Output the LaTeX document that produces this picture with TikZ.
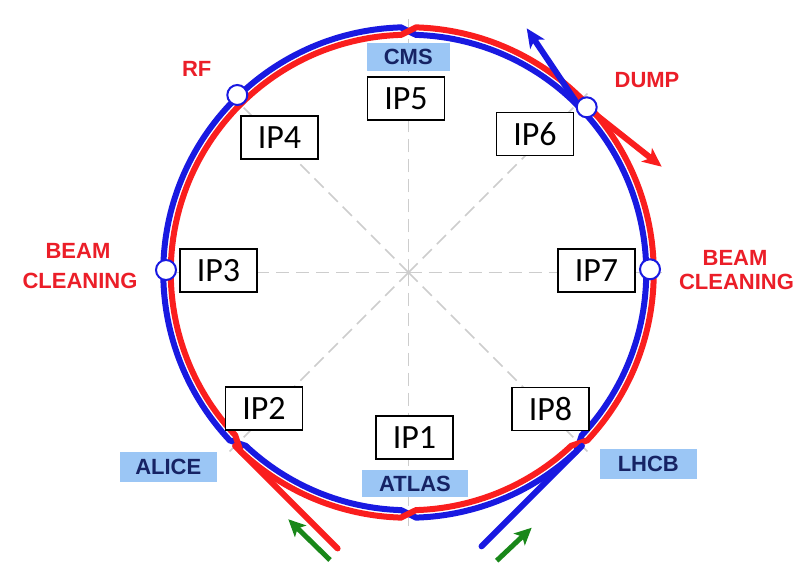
\documentclass[tikz,border=0pt]{standalone}
\usepackage{fontspec}
\setmainfont{Carlito}
\newfontfamily\labfont{Liberation Sans}
\usetikzlibrary{arrows.meta,calc}
\definecolor{beamblue}{RGB}{25,25,225}
\definecolor{beamred}{RGB}{250,30,30}
\definecolor{labfill}{RGB}{155,198,245}
\definecolor{navy}{RGB}{22,35,100}
\definecolor{textred}{RGB}{235,30,40}
\definecolor{injgreen}{RGB}{25,135,25}
\definecolor{gridgrey}{RGB}{205,205,205}
\begin{document}
\begin{tikzpicture}[x=1pt,y=1pt,
  ipbox/.style={draw=black, line width=1.6pt, fill=white, minimum width=77pt, minimum height=43pt, inner sep=0pt, font=\fontsize{34}{36}\selectfont},
  explab/.style={fill=labfill, text=navy, inner sep=0pt, font=\labfont\bfseries\fontsize{22}{24}\selectfont},
  redlab/.style={text=textred, inner sep=0pt, font=\labfont\bfseries\fontsize{22}{24}\selectfont},
  bluebeam/.style={draw=beamblue, line width=6pt},
  redbeam/.style={draw=beamred, line width=6pt},
  beamtip/.style={-{Stealth[length=19pt,width=17pt,inset=5pt]}},
  ringmark/.style={circle, draw=beamblue, line width=2pt, fill=white, minimum size=20pt, inner sep=0pt},
  griddash/.style={draw=gridgrey, line width=1.5pt, dash pattern=on 13pt off 7pt},
  greenarrow/.style={draw=injgreen, line width=5pt, -{Stealth[length=17pt,width=16pt,inset=4pt]}}
]
\useasboundingbox (0,0) rectangle (799,568);
\coordinate (C) at (408.5,295.5);
% dashed radial lines
\foreach \a/\n in {0/g0,45/g1,90/g2,135/g3,180/g4,225/g5,270/g6,315/g7}{
  \coordinate (\n) at ($(C)+(\a:258pt)$);
  \draw[griddash] (C) -- (\n);
}
% beam rings
\begin{scope}[shift={(C)}]
\draw[bluebeam] (91.8:245.25pt) arc[start angle=91.8,end angle=223.2,radius=245.25pt]
  -- (226.8:237.75pt) arc[start angle=226.8,end angle=268.2,radius=237.75pt]
  -- (271.8:245.25pt) arc[start angle=271.8,end angle=313.2,radius=245.25pt]
  -- (316.8:237.75pt) arc[start angle=316.8,end angle=448.2,radius=237.75pt] -- cycle;
\draw[redbeam] (91.8:237.75pt) arc[start angle=91.8,end angle=223.2,radius=237.75pt]
  -- (226.8:245.25pt) arc[start angle=226.8,end angle=268.2,radius=245.25pt]
  -- (271.8:237.75pt) arc[start angle=271.8,end angle=313.2,radius=237.75pt]
  -- (316.8:245.25pt) arc[start angle=316.8,end angle=448.2,radius=245.25pt] -- cycle;
\end{scope}
% injection lines
\coordinate (rinjA) at ($(C)+(225:245.25pt)$);
\coordinate (rinjB) at ($(rinjA)+(-45:145pt)$);
\coordinate (binjA) at ($(C)+(315:245.25pt)$);
\coordinate (binjB) at ($(binjA)+(225:142pt)$);
\draw[redbeam, line cap=round] (rinjA) -- (rinjB);
\draw[bluebeam, line cap=round] (binjA) -- (binjB);
% dump lines
\coordinate (rdumpA) at (574.9,470);
\coordinate (rdumpB) at (661.7,401.3);
\coordinate (bdumpA) at (579.3,461.3);
\coordinate (bdumpB) at (526.7,539.7);
\draw[redbeam, beamtip] (rdumpA) -- (rdumpB);
\draw[bluebeam, beamtip] (bdumpA) -- (bdumpB);
% green injection arrows
\coordinate (gLA) at (330,8);
\coordinate (gLB) at (288.3,48.7);
\coordinate (gRA) at (496.7,7.3);
\coordinate (gRB) at (531.7,40.3);
\draw[greenarrow] (gLA) -- (gLB);
\draw[greenarrow] (gRA) -- (gRB);
% IP boxes
\node[ipbox] (ip1) at (414.5,130.5) {IP1};
\node[ipbox] (ip2) at (264,159.5) {IP2};
\node[ipbox] (ip3) at (218.5,297.5) {IP3};
\node[ipbox] (ip4) at (279.5,430.5) {IP4};
\node[ipbox] (ip5) at (406,469.5) {IP5};
\node[ipbox] (ip6) at (535,434) {IP6};
\node[ipbox] (ip7) at (596.5,297.5) {IP7};
\node[ipbox] (ip8) at (550.5,159) {IP8};
% experiment labels
\node[explab, minimum width=83pt, minimum height=28pt] (cms) at (408.3,511.2) {CMS};
\node[explab, minimum width=106.6pt, minimum height=27.3pt] (atlas) at (415,84.3) {ATLAS};
\node[explab, minimum width=96.7pt, minimum height=30pt] (alice) at (168.3,101.3) {ALICE};
\node[explab, minimum width=96.7pt, minimum height=30pt] (lhcb) at (648.3,103.7) {LHCB};
% markers
\node[ringmark] (mrf) at (237.3,473) {};
\node[ringmark] (m3) at (166,298) {};
\node[ringmark] (m7) at (650,298.7) {};
\node[ringmark] (mdump) at (586.7,460.7) {};
% red labels
\node[redlab] (rf) at (196.7,499) {RF};
\node[redlab] (dump) at (647,488) {DUMP};
\node[redlab] (bl1) at (78,317) {BEAM};
\node[redlab] (bl2) at (80,287) {CLEANING};
\node[redlab] (br1) at (735,310) {BEAM};
\node[redlab] (br2) at (736.5,286) {CLEANING};
\end{tikzpicture}
\end{document}
